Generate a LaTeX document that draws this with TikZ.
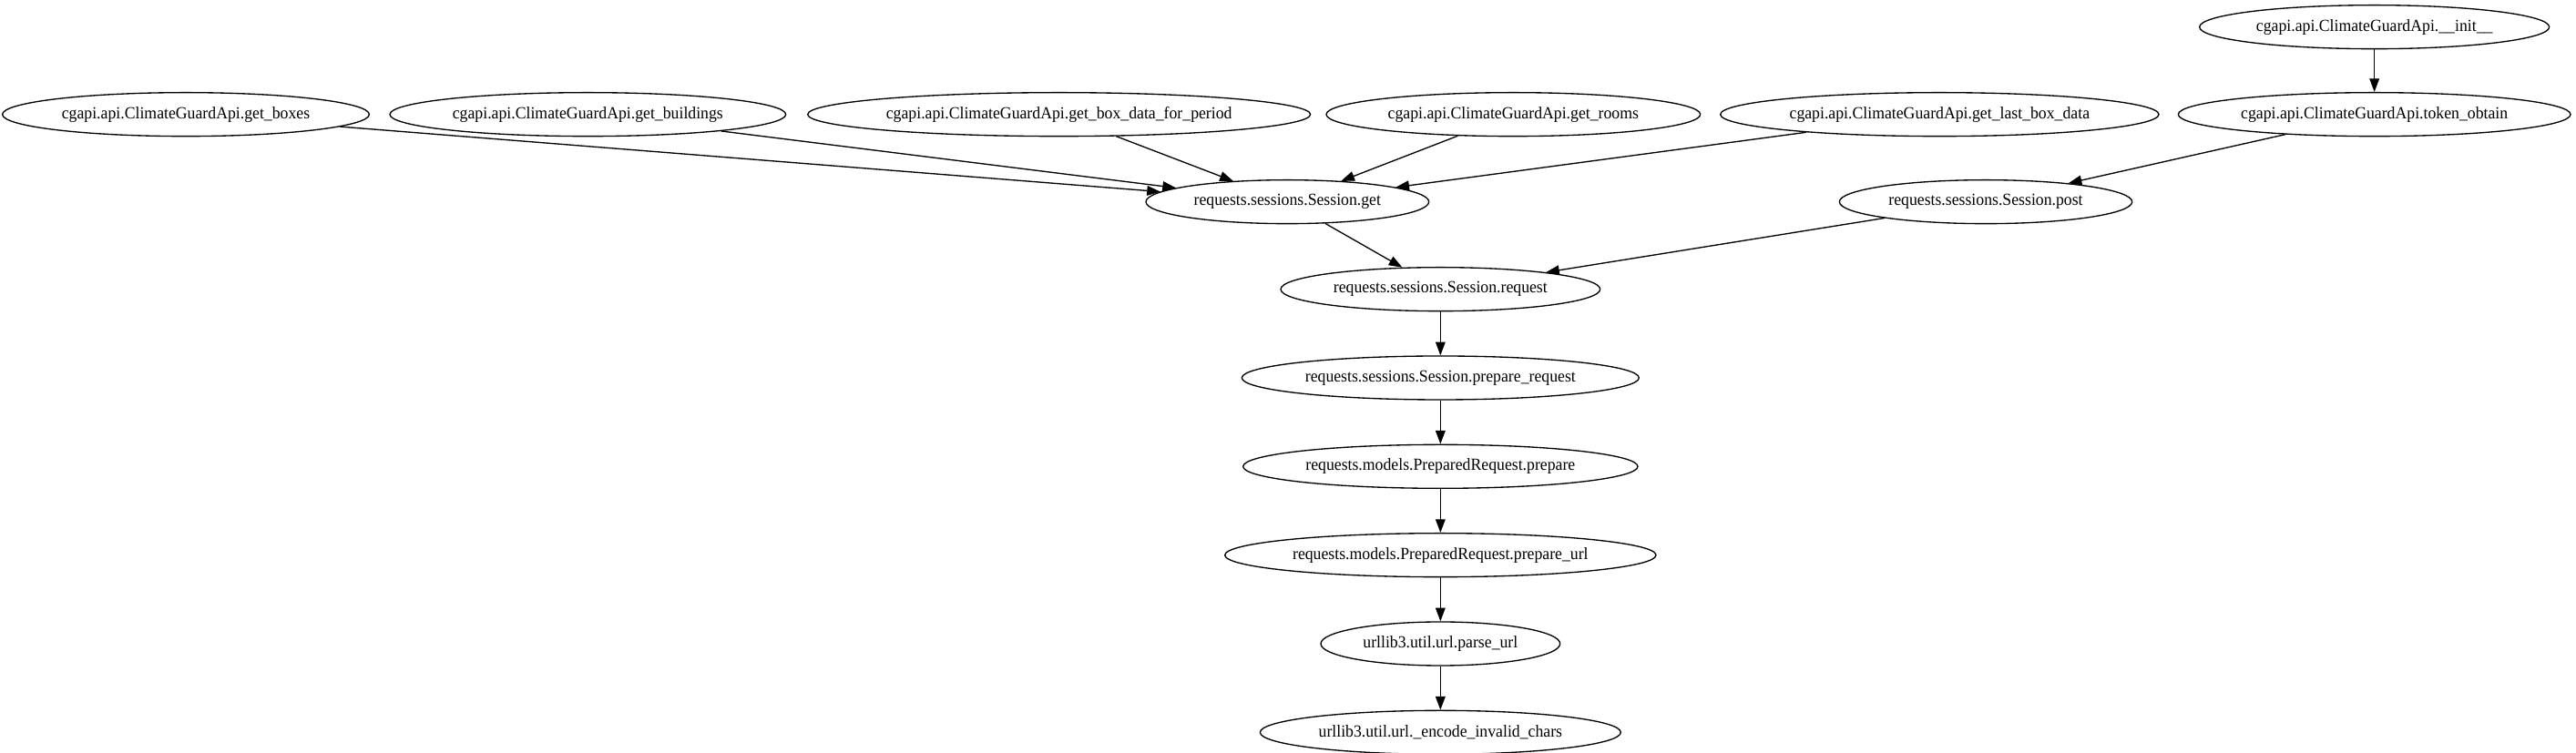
\documentclass[tikz,border=0pt]{standalone}
\usepackage{fontspec}
\setmainfont{Liberation Serif}[FakeStretch=0.95]
\usetikzlibrary{positioning,shapes.geometric,arrows.meta}

\begin{document}
\begin{tikzpicture}[
            x=1pt, y=1pt,
            node distance=36pt,
            call node/.style={ellipse,draw,line width=1pt,font=\fontsize{14}{16}\selectfont,inner xsep=0pt,inner ysep=0pt,minimum height=36pt},
            every edge/.style={draw,line width=1pt,-{Triangle[length=11pt,width=8pt]}},
        ]
            \useasboundingbox (0,0) rectangle (2121,620.25);

            \node[call node, minimum width=288pt] (init) at (1955,598) {cgapi.api.ClimateGuardApi.\_\_init\_\_};
            \node[call node, minimum width=302pt] (get_boxes) at (153,526) {cgapi.api.ClimateGuardApi.get\_boxes};
            \node[call node, minimum width=326pt] (get_buildings) at (484,526) {cgapi.api.ClimateGuardApi.get\_buildings};
            \node[call node, minimum width=414pt] (get_period) at (872,526) {cgapi.api.ClimateGuardApi.get\_box\_data\_for\_period};
            \node[call node, minimum width=308pt] (get_rooms) at (1246,526) {cgapi.api.ClimateGuardApi.get\_rooms};
            \node[call node, minimum width=361pt] (get_last) at (1597,526) {cgapi.api.ClimateGuardApi.get\_last\_box\_data};
            \node[call node, minimum width=323pt] (token_obtain) at (1955,526) {cgapi.api.ClimateGuardApi.token\_obtain};
            \node[call node, minimum width=233pt] (sess_get) at (1060,454) {requests.sessions.Session.get};
            \node[call node, minimum width=241pt] (sess_post) at (1635,454) {requests.sessions.Session.post};
            \node[call node, minimum width=263pt] (sess_request) at (1186,382) {requests.sessions.Session.request};
            \node[call node, minimum width=327pt, below=of sess_request] (prep_request) {requests.sessions.Session.prepare\_request};
            \node[call node, minimum width=325pt, below=of prep_request] (prep) {requests.models.PreparedRequest.prepare};
            \node[call node, minimum width=355pt, below=of prep] (prep_url) {requests.models.PreparedRequest.prepare\_url};
            \node[call node, minimum width=197pt, below=of prep_url] (parse_url) {urllib3.util.url.parse\_url};
            \node[call node, minimum width=297pt, below=of parse_url] (encode_chars) {urllib3.util.url.\_encode\_invalid\_chars};

            \path (get_boxes) edge (sess_get);
            \path (get_buildings) edge (sess_get);
            \path (get_period) edge (sess_get);
            \path (get_rooms) edge (sess_get);
            \path (get_last) edge (sess_get);
            \path (init) edge (token_obtain);
            \path (token_obtain) edge (sess_post);
            \path (sess_get) edge (sess_request);
            \path (sess_post) edge (sess_request);
            \path (sess_request) edge (prep_request);
            \path (prep_request) edge (prep);
            \path (prep) edge (prep_url);
            \path (prep_url) edge (parse_url);
            \path (parse_url) edge (encode_chars);
        \end{tikzpicture}
\end{document}
